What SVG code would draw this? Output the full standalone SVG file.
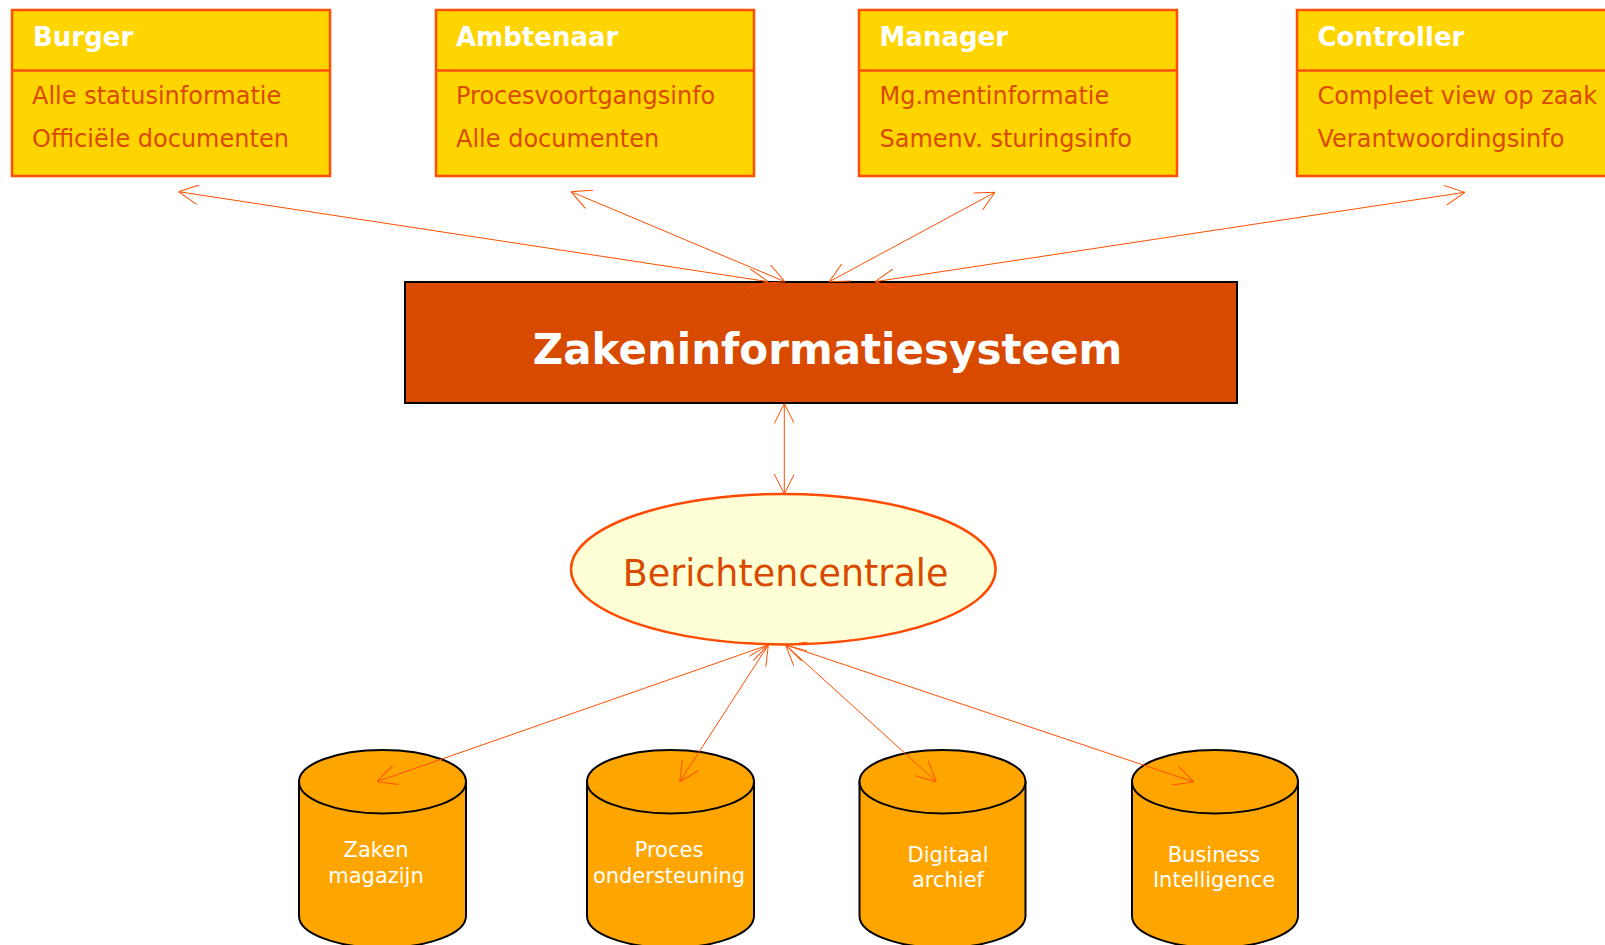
<svg xmlns="http://www.w3.org/2000/svg" width="1605" height="945" viewBox="0 0 1605 945">
<style>
.role{fill:#FFD500;stroke:#FF5000;stroke-width:2.5}
.hdr{font-family:"DejaVu Sans",Verdana,sans-serif;font-weight:bold;font-size:26px;fill:#FFFFFF}
.body{font-family:"DejaVu Sans",Verdana,sans-serif;font-size:24px;fill:#D94A00}
.conn{stroke:#FF5000;stroke-width:1;fill:none;marker-start:url(#ah);marker-end:url(#ah)}
.cyl{fill:#FFA500;stroke:#000000;stroke-width:2}
.ctext{font-family:"DejaVu Sans",Verdana,sans-serif;font-size:21px;fill:#FFFFFF;text-anchor:middle}
</style>
<defs>
<marker id="ah" viewBox="0 0 20 20" refX="20" refY="10" markerWidth="20" markerHeight="20" markerUnits="userSpaceOnUse" orient="auto-start-reverse">
<path d="M0,0 L20,10 L0,20" fill="none" stroke="#FF5000" stroke-width="1"/>
</marker>
</defs>
<rect width="1605" height="945" fill="#FFFFFF"/>

<g id="burger">
<rect class="role" x="12" y="10" width="318" height="166"/>
<line x1="12" y1="70.5" x2="330" y2="70.5" stroke="#FF5000" stroke-width="2.5"/>
<text class="hdr" x="33" y="45.5">Burger</text>
<text class="body" x="32" y="103.5">Alle statusinformatie</text>
<text class="body" x="32" y="146.5">Officiële documenten</text>
</g>

<g id="ambtenaar">
<rect class="role" x="436" y="10" width="318" height="166"/>
<line x1="436" y1="70.5" x2="754" y2="70.5" stroke="#FF5000" stroke-width="2.5"/>
<text class="hdr" x="456" y="45.5">Ambtenaar</text>
<text class="body" x="456" y="103.5">Procesvoortgangsinfo</text>
<text class="body" x="456" y="146.5">Alle documenten</text>
</g>

<g id="manager">
<rect class="role" x="859" y="10" width="318" height="166"/>
<line x1="859" y1="70.5" x2="1177" y2="70.5" stroke="#FF5000" stroke-width="2.5"/>
<text class="hdr" x="879.5" y="45.5">Manager</text>
<text class="body" x="879.5" y="103.5">Mg.mentinformatie</text>
<text class="body" x="879.5" y="146.5">Samenv. sturingsinfo</text>
</g>

<g id="controller">
<rect class="role" x="1297" y="10" width="318" height="166"/>
<line x1="1297" y1="70.5" x2="1615" y2="70.5" stroke="#FF5000" stroke-width="2.5"/>
<text class="hdr" x="1317.5" y="45.5">Controller</text>
<text class="body" x="1317.5" y="103.5">Compleet view op zaak</text>
<text class="body" x="1317.5" y="146.5">Verantwoordingsinfo</text>
</g>

<g id="zis">
<rect x="405" y="282" width="832" height="121" fill="#D84A00" stroke="#000000" stroke-width="2"/>
<text x="827.5" y="364" text-anchor="middle" font-family="DejaVu Sans, Verdana, sans-serif" font-weight="bold" font-size="42" fill="#FFFFFF">Zakeninformatiesysteem</text>
</g>

<g id="berichtencentrale">
<ellipse cx="783.3" cy="569.2" rx="212.3" ry="75.2" fill="#FFFFD5" stroke="#FF4A00" stroke-width="2.5"/>
<text x="785.5" y="586" text-anchor="middle" font-family="DejaVu Sans, Verdana, sans-serif" font-size="36.5" fill="#D94A00">Berichtencentrale</text>
</g>

<g id="zakenmagazijn">
<path class="cyl" d="M299,781.7 L299,916 A83.5,31.7 0 0 0 466,916 L466,781.7 Z"/>
<ellipse class="cyl" cx="382.5" cy="781.7" rx="83.5" ry="31.7"/>
<text class="ctext" x="376" y="857">Zaken</text>
<text class="ctext" x="376" y="883">magazijn</text>
</g>

<g id="procesondersteuning">
<path class="cyl" d="M587,781.7 L587,916 A83.5,31.7 0 0 0 754,916 L754,781.7 Z"/>
<ellipse class="cyl" cx="670.5" cy="781.7" rx="83.5" ry="31.7"/>
<text class="ctext" x="669" y="857">Proces</text>
<text class="ctext" x="669" y="883">ondersteuning</text>
</g>

<g id="digitaalarchief">
<path class="cyl" d="M859.5,781.7 L859.5,916 A83,31.7 0 0 0 1025.5,916 L1025.5,781.7 Z"/>
<ellipse class="cyl" cx="942.5" cy="781.7" rx="83" ry="31.7"/>
<text class="ctext" x="948" y="862">Digitaal</text>
<text class="ctext" x="948" y="887">archief</text>
</g>

<g id="businessintelligence">
<path class="cyl" d="M1132,781.7 L1132,916 A83,31.7 0 0 0 1298,916 L1298,781.7 Z"/>
<ellipse class="cyl" cx="1215" cy="781.7" rx="83" ry="31.7"/>
<text class="ctext" x="1214" y="862">Business</text>
<text class="ctext" x="1214" y="887">Intelligence</text>
</g>

<g id="connectors">
<line class="conn" x1="768.3" y1="281.7" x2="178.6" y2="191.7"/>
<line class="conn" x1="785" y1="281.7" x2="571" y2="191.7"/>
<line class="conn" x1="829.3" y1="281.7" x2="995" y2="192.3"/>
<line class="conn" x1="875" y1="281.7" x2="1464.8" y2="192.3"/>
<line class="conn" x1="784.3" y1="403.5" x2="784.3" y2="494"/>
<line class="conn" x1="768.3" y1="645" x2="377" y2="781.7"/>
<line class="conn" x1="768.3" y1="645" x2="679.8" y2="781.7"/>
<line class="conn" x1="785.7" y1="645" x2="936.3" y2="781.7"/>
<line class="conn" x1="785.7" y1="645" x2="1194" y2="782"/>
</g>
</svg>
